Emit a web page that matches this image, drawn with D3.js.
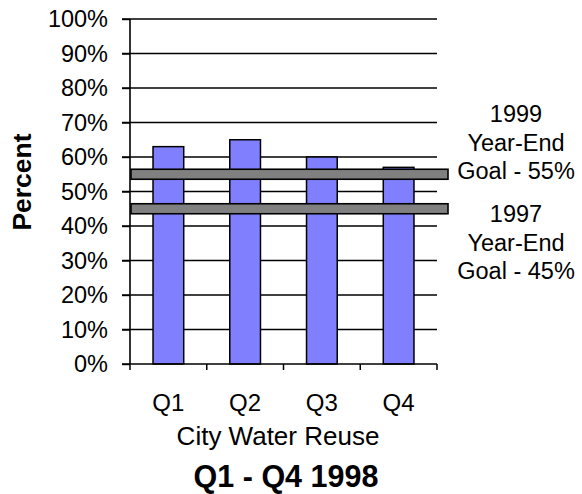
<!DOCTYPE html>
<html>
<head>
<meta charset="utf-8">
<script src="https://cdn.jsdelivr.net/npm/d3@7/dist/d3.min.js"></script>
<style>
  html, body { margin: 0; padding: 0; background: #fff; }
  svg text { font-family: "Liberation Sans", Arial, sans-serif; fill: #000; }
</style>
</head>
<body>
<svg id="chart" width="582" height="494"></svg>
<script>
// Quarterly city water reuse, 1998
const quarters = ["Q1", "Q2", "Q3", "Q4"];
const reuse = [0.63, 0.65, 0.60, 0.57];
const goals = [0.55, 0.45];
const goalLabels = [
  ["1999", "Year-End", "Goal - 55%"],
  ["1997", "Year-End", "Goal - 45%"]
];
const yTicks = [0, 0.1, 0.2, 0.3, 0.4, 0.5, 0.6, 0.7, 0.8, 0.9, 1.0];

const svg = d3.select("#chart");
const plotLeft = 130, plotRight = 437, plotTop = 19, plotBottom = 364;

const x = d3.scaleBand().domain(quarters).range([plotLeft, plotRight])
  .paddingInner(0.6).paddingOuter(0.3);
const y = d3.scaleLinear().domain([0, 1]).range([plotBottom, plotTop]);

// horizontal gridlines, running through the outer tick marks
svg.append("g").selectAll("line").data(yTicks.slice(1)).join("line")
  .attr("x1", plotLeft - 8).attr("x2", plotRight)
  .attr("y1", d => y(d)).attr("y2", d => y(d))
  .attr("stroke", "#000").attr("stroke-width", 1.4);

// y axis
const yAxis = svg.append("g").attr("transform", `translate(${plotLeft},0)`)
  .call(d3.axisLeft(y).tickValues(yTicks).tickFormat(d3.format(".0%"))
    .tickSize(8).tickPadding(14));
yAxis.select(".domain").attr("stroke", "#000").attr("stroke-width", 1.6)
  .attr("d", `M0,${plotTop}V${plotBottom}`);
yAxis.selectAll(".tick line").attr("stroke", "#000").attr("stroke-width", 1.4);
yAxis.selectAll(".tick text").style("font-size", "23.5px")
  .style("font-family", "'Liberation Sans', Arial, sans-serif").attr("fill", "#000");

// bars
svg.append("g").selectAll("rect").data(reuse).join("rect")
  .attr("x", (d, i) => x(quarters[i]))
  .attr("width", x.bandwidth())
  .attr("y", d => y(d))
  .attr("height", d => y(0) - y(d))
  .attr("fill", "#8080ff").attr("stroke", "#000").attr("stroke-width", 1.5);

// x axis with ticks between categories
const bounds = quarters.map(q => x(q) - x.step() * x.paddingInner() / 2);
bounds[0] = plotLeft;
bounds.push(plotRight);
svg.append("line").attr("x1", plotLeft - 8).attr("x2", plotRight)
  .attr("y1", plotBottom).attr("y2", plotBottom)
  .attr("stroke", "#000").attr("stroke-width", 1.6);
svg.append("g").selectAll("line").data(bounds).join("line")
  .attr("x1", d => d).attr("x2", d => d)
  .attr("y1", plotBottom).attr("y2", plotBottom + 6)
  .attr("stroke", "#000").attr("stroke-width", 1.5);
svg.append("g").selectAll("text").data(quarters).join("text")
  .attr("x", d => x(d) + x.bandwidth() / 2)
  .attr("y", 411)
  .attr("text-anchor", "middle")
  .style("font-size", "24px")
  .text(d => d);

// goal bands
svg.append("g").selectAll("rect").data(goals).join("rect")
  .attr("x", plotLeft + 1)
  .attr("width", plotRight - plotLeft + 10)
  .attr("y", d => y(d) - 5)
  .attr("height", 10)
  .attr("fill", "#808080").attr("stroke", "#000").attr("stroke-width", 1.6);

// goal labels
const goalBase = [122, 222];
goalLabels.forEach((lines, g) => {
  svg.append("text")
    .attr("x", 516).attr("y", goalBase[g])
    .attr("text-anchor", "middle")
    .style("font-size", "23.5px")
    .selectAll("tspan").data(lines).join("tspan")
    .attr("x", 516)
    .attr("dy", (d, i) => i === 0 ? 0 : 28.5)
    .text(d => d);
});

// axis titles
svg.append("text")
  .attr("transform", "translate(31,182) rotate(-90)")
  .attr("text-anchor", "middle")
  .style("font-size", "26.5px").style("font-weight", "bold")
  .text("Percent");
svg.append("text")
  .attr("x", 278).attr("y", 445)
  .attr("text-anchor", "middle")
  .style("font-size", "26px")
  .text("City Water Reuse");
svg.append("text")
  .attr("x", 286).attr("y", 487)
  .attr("text-anchor", "middle")
  .style("font-size", "30.5px").style("font-weight", "bold")
  .text("Q1 - Q4 1998");
</script>
</body>
</html>
